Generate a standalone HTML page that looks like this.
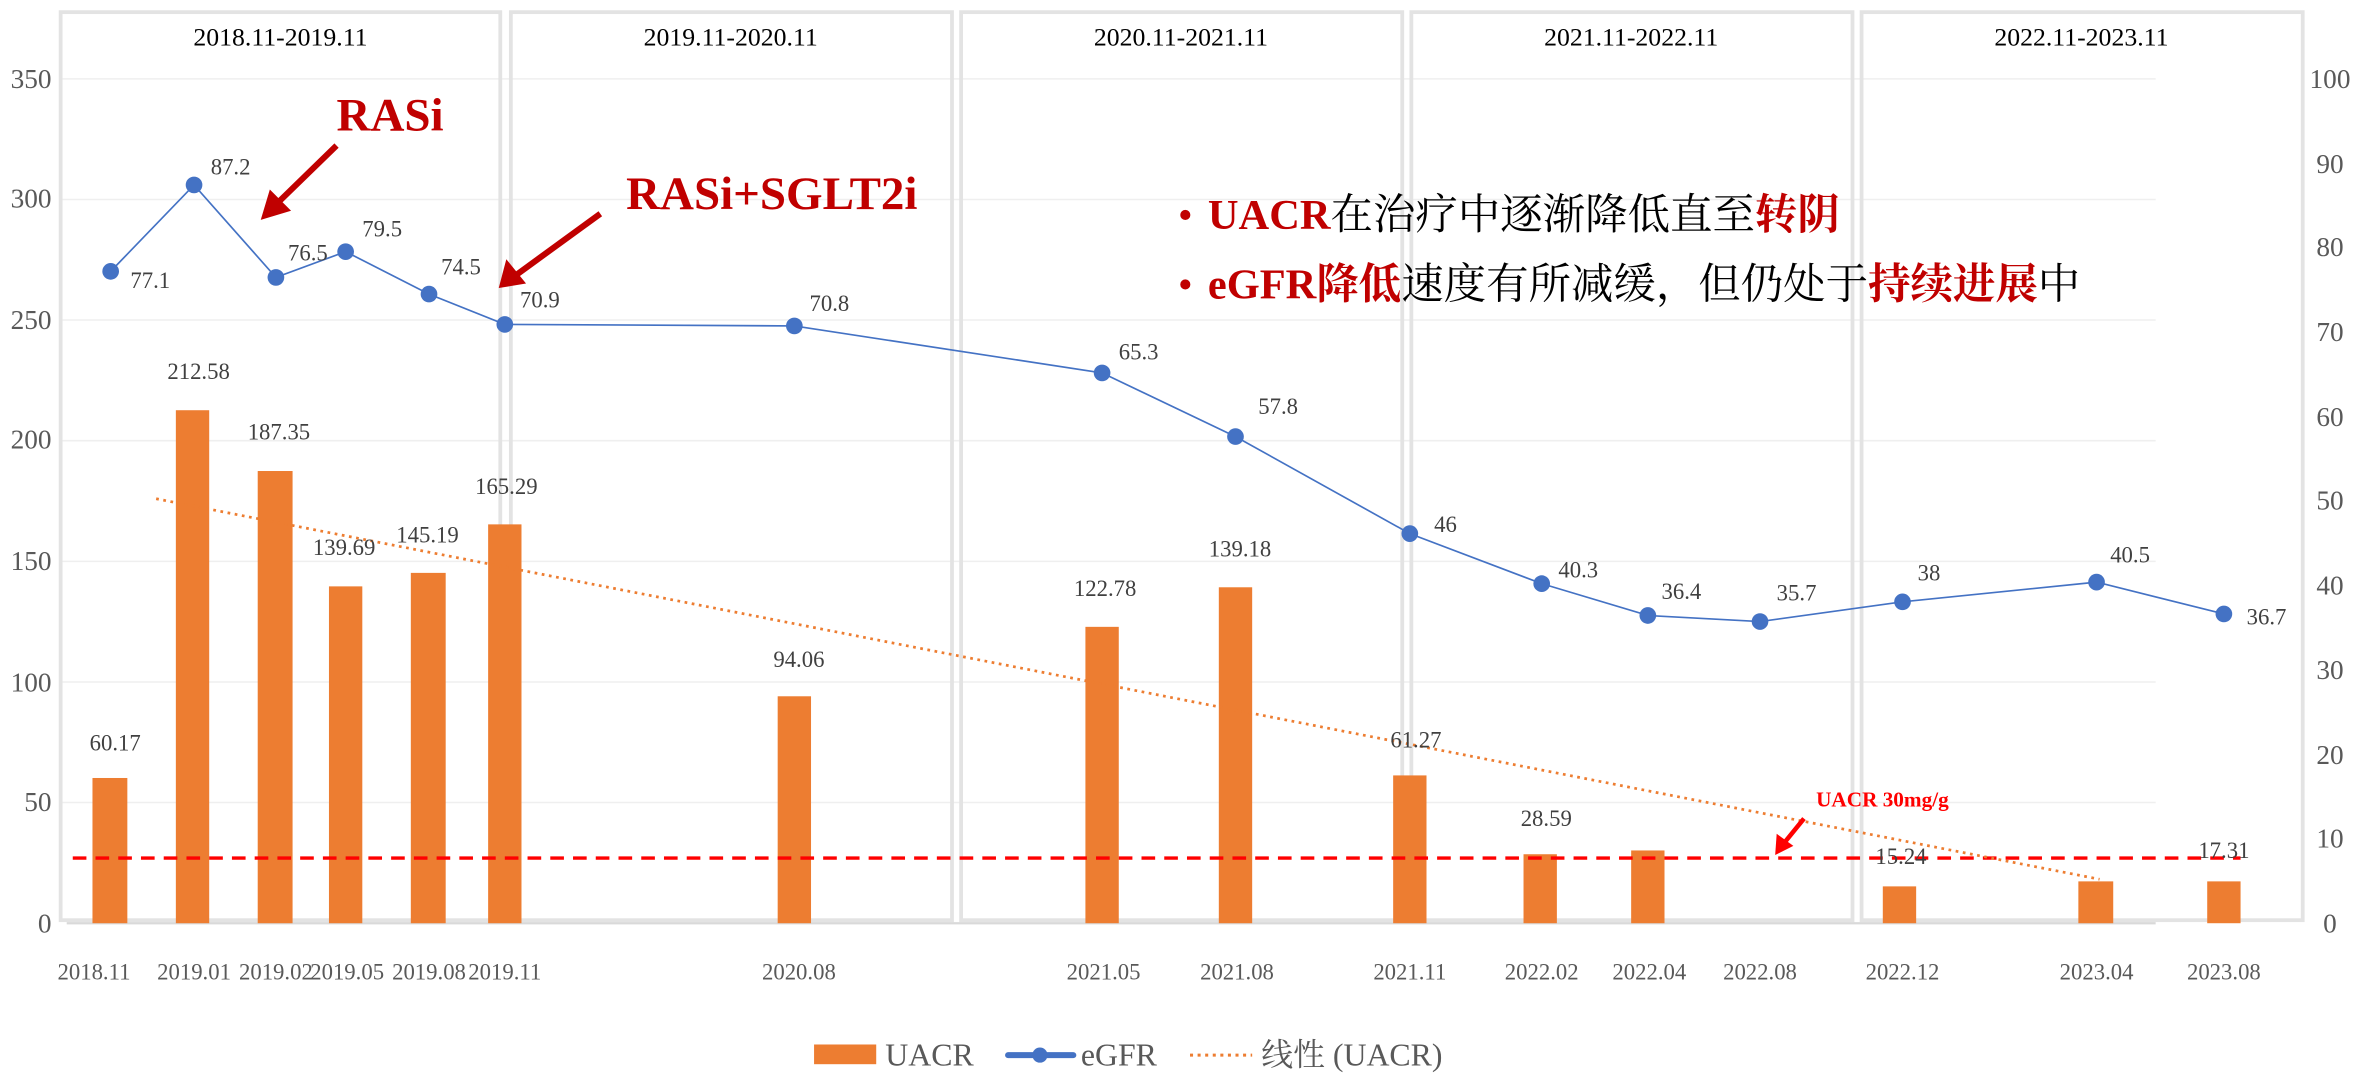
<!DOCTYPE html>
<html><head><meta charset="utf-8"><style>html,body{margin:0;padding:0;background:#fff}svg{display:block}</style></head>
<body>
<svg width="2377" height="1083" viewBox="0 0 1568 714.4" xmlns="http://www.w3.org/2000/svg" font-family="'Liberation Serif','Noto Serif CJK SC',serif">
<g stroke="#efefef" stroke-width="1">
<line x1="40" y1="52" x2="1422" y2="52"/><line x1="40" y1="131.6" x2="1422" y2="131.6"/><line x1="40" y1="211.1" x2="1422" y2="211.1"/><line x1="40" y1="290.7" x2="1422" y2="290.7"/><line x1="40" y1="370.3" x2="1422" y2="370.3"/><line x1="40" y1="449.9" x2="1422" y2="449.9"/><line x1="40" y1="529.4" x2="1422" y2="529.4"/>
</g>
<g fill="none" stroke="#e3e3e3" stroke-width="2.5">
<rect x="40" y="8" width="290" height="599"/>
<rect x="337" y="8" width="291" height="599"/>
<rect x="634" y="8" width="291" height="599"/>
<rect x="931" y="8" width="291" height="599"/>
<rect x="1228" y="8" width="291" height="599"/>
</g>
<line x1="44" y1="609" x2="1422" y2="609" stroke="#d9d9d9" stroke-width="1.5"/>
<g font-size="17" fill="#000" text-anchor="middle">
<text x="185" y="30">2018.11-2019.11</text><text x="482" y="30">2019.11-2020.11</text><text x="779" y="30">2020.11-2021.11</text><text x="1076" y="30">2021.11-2022.11</text><text x="1373" y="30">2022.11-2023.11</text>
</g>
<g font-size="18" fill="#595959" text-anchor="end">
<text x="34" y="58">350</text><text x="34" y="137">300</text><text x="34" y="217">250</text><text x="34" y="296">200</text><text x="34" y="376">150</text><text x="34" y="456">100</text><text x="34" y="535">50</text><text x="34" y="615">0</text>
</g>
<g font-size="18" fill="#595959" text-anchor="middle">
<text x="1537" y="58">100</text><text x="1537" y="114">90</text><text x="1537" y="169">80</text><text x="1537" y="225">70</text><text x="1537" y="281">60</text><text x="1537" y="336">50</text><text x="1537" y="392">40</text><text x="1537" y="448">30</text><text x="1537" y="504">20</text><text x="1537" y="559">10</text><text x="1537" y="615">0</text>
</g>
<g fill="#ed7d31">
<rect x="61" y="513.2" width="23" height="95.8"/>
<rect x="116" y="270.6" width="22" height="338.4"/>
<rect x="170" y="310.7" width="23" height="298.3"/>
<rect x="217" y="386.8" width="22" height="222.2"/>
<rect x="271" y="377.9" width="23" height="231.1"/>
<rect x="322" y="345.9" width="22" height="263.1"/>
<rect x="513" y="459.3" width="22" height="149.7"/>
<rect x="716" y="413.5" width="22" height="195.5"/>
<rect x="804" y="387.4" width="22" height="221.6"/>
<rect x="919" y="511.5" width="22" height="97.5"/>
<rect x="1005" y="563.5" width="22" height="45.5"/>
<rect x="1076" y="561" width="22" height="48"/>
<rect x="1242" y="584.7" width="22" height="24.3"/>
<rect x="1371" y="581.4" width="23" height="27.6"/>
<rect x="1456" y="581.4" width="22" height="27.6"/>
</g>
<line x1="48" y1="566" x2="1478" y2="566" stroke="#ff0000" stroke-width="2.2" stroke-dasharray="9,6"/>
<line x1="103" y1="329" x2="1385" y2="580" stroke="#ed7d31" stroke-width="1.8" stroke-dasharray="1.8,3"/>
<polyline fill="none" stroke="#4472c4" stroke-width="1.1" points="73,179 128,122 182,183 228,166 283,194 333,214 524,215 727,246 815,288 930,352 1017,385 1087,406 1161,410 1255,397 1383,384 1467,405"/>
<g fill="#4472c4">
<circle cx="73" cy="179" r="5.5"/><circle cx="128" cy="122" r="5.5"/><circle cx="182" cy="183" r="5.5"/><circle cx="228" cy="166" r="5.5"/><circle cx="283" cy="194" r="5.5"/><circle cx="333" cy="214" r="5.5"/><circle cx="524" cy="215" r="5.5"/><circle cx="727" cy="246" r="5.5"/><circle cx="815" cy="288" r="5.5"/><circle cx="930" cy="352" r="5.5"/><circle cx="1017" cy="385" r="5.5"/><circle cx="1087" cy="406" r="5.5"/><circle cx="1161" cy="410" r="5.5"/><circle cx="1255" cy="397" r="5.5"/><circle cx="1383" cy="384" r="5.5"/><circle cx="1467" cy="405" r="5.5"/>
</g>
<g font-size="15" fill="#404040">
<text x="86" y="190">77.1</text><text x="139" y="115">87.2</text><text x="190" y="172">76.5</text><text x="239" y="156">79.5</text><text x="291" y="181">74.5</text><text x="343" y="203">70.9</text><text x="534" y="205">70.8</text><text x="738" y="237">65.3</text><text x="830" y="273">57.8</text><text x="946" y="351">46</text><text x="1028" y="381">40.3</text><text x="1096" y="395">36.4</text><text x="1172" y="396">35.7</text><text x="1265" y="383">38</text><text x="1392" y="371">40.5</text><text x="1482" y="412">36.7</text>
</g>
<g font-size="15" fill="#404040" text-anchor="middle">
<text x="76" y="495">60.17</text><text x="131" y="250">212.58</text><text x="184" y="290">187.35</text><text x="227" y="366">139.69</text><text x="282" y="358">145.19</text><text x="334" y="326">165.29</text><text x="527" y="440">94.06</text><text x="729" y="393">122.78</text><text x="818" y="367">139.18</text><text x="934" y="493">61.27</text><text x="1020" y="545">28.59</text><text x="1254" y="570">15.24</text><text x="1467" y="566">17.31</text>
</g>
<g font-size="15" fill="#595959" text-anchor="middle">
<text x="62" y="646">2018.11</text><text x="128" y="646">2019.01</text><text x="182" y="646">2019.02</text><text x="229" y="646">2019.05</text><text x="283" y="646">2019.08</text><text x="333" y="646">2019.11</text><text x="527" y="646">2020.08</text><text x="728" y="646">2021.05</text><text x="816" y="646">2021.08</text><text x="930" y="646">2021.11</text><text x="1017" y="646">2022.02</text><text x="1088" y="646">2022.04</text><text x="1161" y="646">2022.08</text><text x="1255" y="646">2022.12</text><text x="1383" y="646">2023.04</text><text x="1467" y="646">2023.08</text>
</g>
<g font-weight="bold" fill="#c00000">
<text x="222" y="86" font-size="31">RASi</text>
<text x="413" y="138" font-size="31">RASi+SGLT2i</text>
</g>
<g stroke="#c00000" stroke-width="4" fill="#c00000">
<line x1="222" y1="96" x2="184" y2="133"/>
<polygon points="172,145 178,125 192,139" stroke="none"/>
<line x1="396" y1="141" x2="341" y2="181"/>
<polygon points="329,190 334,171 347,187" stroke="none"/>
</g>
<text x="1198" y="532" font-size="14" font-weight="bold" fill="#ff0000">UACR 30mg/g</text>
<line x1="1190" y1="540" x2="1177" y2="556" stroke="#ff0000" stroke-width="3"/>
<polygon points="1171,564 1172,550 1183,558" fill="#ff0000"/>
<g font-size="28">
<text x="777" y="151"><tspan fill="#c00000">•</tspan><tspan dx="10" fill="#c00000" font-weight="bold">UACR</tspan><tspan fill="#000">在治疗中逐渐降低直至</tspan><tspan fill="#c00000" font-weight="bold">转阴</tspan></text>
<text x="777" y="197"><tspan fill="#c00000">•</tspan><tspan dx="10" fill="#c00000" font-weight="bold">eGFR降低</tspan><tspan fill="#000">速度有所减缓，但仍处于</tspan><tspan fill="#c00000" font-weight="bold">持续进展</tspan><tspan fill="#000">中</tspan></text>
</g>
<rect x="537" y="689" width="41" height="13" fill="#ed7d31"/>
<text x="584" y="703" font-size="21" fill="#595959">UACR</text>
<line x1="665" y1="696" x2="708" y2="696" stroke="#4472c4" stroke-width="4" stroke-linecap="round"/>
<circle cx="686" cy="696" r="5" fill="#4472c4"/>
<text x="713" y="703" font-size="21" fill="#595959">eGFR</text>
<line x1="785" y1="696" x2="826" y2="696" stroke="#ed7d31" stroke-width="2" stroke-dasharray="2,3"/>
<text x="832" y="703" font-size="21" fill="#595959">线性 (UACR)</text>
</svg>
</body></html>
